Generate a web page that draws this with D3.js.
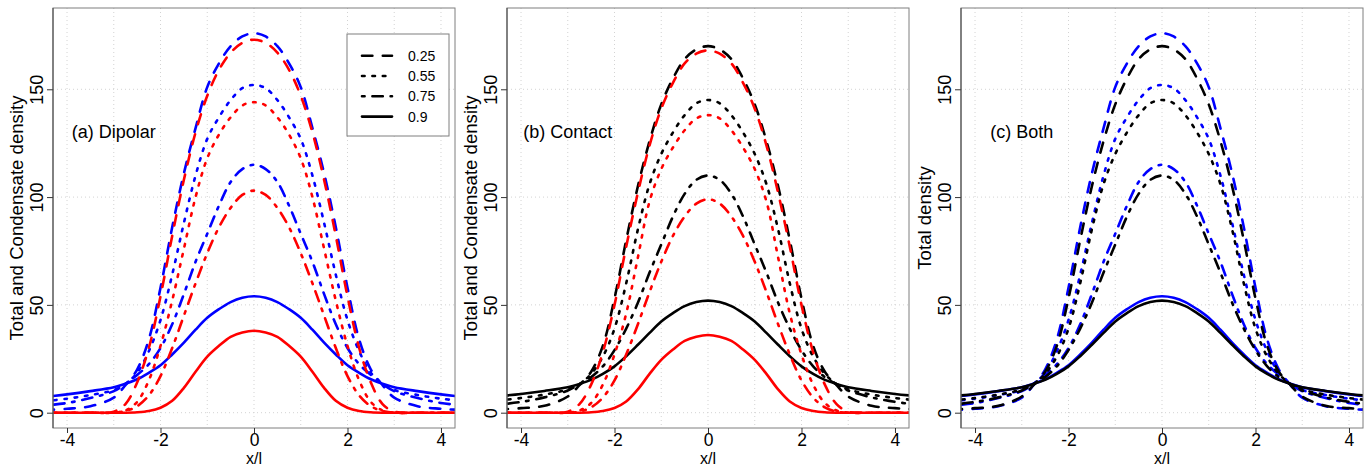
<!DOCTYPE html>
<html>
<head>
<meta charset="utf-8">
<script src="https://cdn.jsdelivr.net/npm/d3@7"></script>
<style>
body { margin: 0; background: #fff; }
text { font-family: "Liberation Sans", Arial, sans-serif; fill: #000; }
</style>
</head>
<body>
<div id="chart"></div>
<script>
// profiles are symmetric about x = 0, values read for x >= 0
var xHalf = [0, 0.25, 0.5, 0.75, 1, 1.25, 1.5, 1.75, 2, 2.25, 2.5, 2.75, 3, 3.5, 4, 4.5];
var fractions = ["0.25", "0.55", "0.75", "0.9"];

var dipolarTotal = [
  [176, 174.5, 170, 162, 151, 132, 111, 86, 58, 34, 20, 12.8, 7, 3, 1.8, 1.2],
  [152, 150.5, 145, 137, 127, 110, 88, 64, 43, 28.5, 18.5, 13.4, 10.5, 8.2, 6.5, 5.3],
  [115, 113, 107, 96, 83, 70, 55, 41, 30, 22.5, 17.5, 13.3, 10, 6.8, 4.5, 3.3],
  [54, 53.3, 51.3, 48, 44, 38.5, 32.5, 27, 22, 18.5, 15.5, 13.4, 11.8, 10, 8.5, 7.3]
];
var dipolarCond = [
  [173, 171.5, 167, 159, 147, 130, 108, 82, 54, 30, 14, 4, 0.5, 0, 0, 0],
  [144, 142.5, 137, 129, 118, 100, 76, 52, 31, 15, 5, 1, 0, 0, 0, 0],
  [103, 101, 95, 86, 74, 60, 45, 30, 17, 8, 3, 0.8, 0, 0, 0, 0],
  [38, 37.2, 35.2, 31, 26, 19, 11.5, 5.5, 2.3, 0.8, 0.2, 0, 0, 0, 0, 0]
];
var contactTotal = [
  [170, 168.5, 164, 155, 143, 126, 105, 80, 53, 31, 19, 12.8, 7.5, 3.2, 2.1, 1.5],
  [145, 143.5, 138, 130, 120, 106, 85, 60, 39, 26, 18, 13.3, 10.8, 8.4, 6.8, 5.6],
  [110, 108, 101.5, 91, 78, 65, 51, 39, 29, 21.5, 16.5, 13.2, 10.3, 7.1, 5, 3.7],
  [52, 51.3, 49.4, 46.2, 42.3, 37, 31.5, 26.2, 21.5, 18, 15.2, 13.3, 11.8, 10.1, 8.7, 7.6]
];
var contactCond = [
  [168, 166.5, 162, 153, 141, 124, 102, 77, 50, 28, 13, 4, 0.5, 0, 0, 0],
  [138, 136.5, 131, 123, 113, 98, 72, 46, 27, 13, 4.5, 1, 0, 0, 0, 0],
  [99, 97, 91, 82, 70, 56, 41, 27, 15, 7, 2.5, 0.5, 0, 0, 0, 0],
  [36, 35.2, 33.3, 29.3, 24.5, 18, 10.8, 5.2, 2.2, 0.8, 0.2, 0, 0, 0, 0, 0]
];

var xTicks = [-4, -2, 0, 2, 4];
var yTicks = [0, 50, 100, 150];
var xGrid = [-4, -3, -2, -1, 0, 1, 2, 3, 4];

var width = 1371, height = 466;
var plotW = 402, plotTop = 8, plotBottom = 428;
var lw = 2.6;
var dashes = [
  [4 * lw, 4 * lw].join(","),
  [1 * lw, 3 * lw].join(","),
  [1 * lw, 3 * lw, 4 * lw, 3 * lw].join(","),
  null
];

var panels = [
  {left: 53, label: "(a) Dipolar", ytitle: "Total and Condensate density",
   sets: [{vals: dipolarTotal, color: "#0000ff"}, {vals: dipolarCond, color: "#ff0000"}], legend: true},
  {left: 507, label: "(b) Contact", ytitle: "Total and Condensate density",
   sets: [{vals: contactTotal, color: "#000000"}, {vals: contactCond, color: "#ff0000"}]},
  {left: 961, label: "(c) Both", ytitle: "Total density",
   sets: [{vals: dipolarTotal, color: "#0000ff"}, {vals: contactTotal, color: "#000000"}]}
];

function mirror(vals) {
  var pts = [];
  for (var i = xHalf.length - 1; i > 0; i--) pts.push([-xHalf[i], vals[i]]);
  for (var j = 0; j < xHalf.length; j++) pts.push([xHalf[j], vals[j]]);
  return pts;
}

var svg = d3.select("#chart").append("svg")
    .attr("width", width)
    .attr("height", height);

panels.forEach(function(p, k) {
  var x = d3.scaleLinear().domain([-4.3, 4.3]).range([p.left, p.left + plotW]);
  var y = d3.scaleLinear().domain([-7.1, 187.7]).range([plotBottom, plotTop]);
  var g = svg.append("g");

  g.append("clipPath").attr("id", "clip" + k)
    .append("rect")
    .attr("x", p.left).attr("y", plotTop)
    .attr("width", plotW).attr("height", plotBottom - plotTop);

  // grid
  g.selectAll(".vg").data(xGrid).enter().append("line")
    .attr("x1", function(d){ return x(d); }).attr("x2", function(d){ return x(d); })
    .attr("y1", plotTop).attr("y2", plotBottom)
    .attr("stroke", "#d3d3d3").attr("stroke-dasharray", "1,3");
  g.selectAll(".hg").data(yTicks).enter().append("line")
    .attr("x1", p.left).attr("x2", p.left + plotW)
    .attr("y1", function(d){ return y(d); }).attr("y2", function(d){ return y(d); })
    .attr("stroke", "#d3d3d3").attr("stroke-dasharray", "1,3");

  var line = d3.line()
    .x(function(d){ return x(d[0]); })
    .y(function(d){ return y(d[1]); })
    .curve(d3.curveCatmullRom.alpha(0.5));

  var curves = g.append("g").attr("clip-path", "url(#clip" + k + ")");
  p.sets.forEach(function(s) {
    s.vals.forEach(function(vals, i) {
      curves.append("path")
        .attr("d", line(mirror(vals)))
        .attr("fill", "none")
        .attr("stroke", s.color)
        .attr("stroke-width", lw)
        .attr("stroke-linecap", "round")
        .attr("stroke-dasharray", dashes[i]);
    });
  });

  // box
  g.append("rect")
    .attr("x", p.left).attr("y", plotTop)
    .attr("width", plotW).attr("height", plotBottom - plotTop)
    .attr("fill", "none").attr("stroke", "#7f7f7f");

  // axes
  var xAxis = d3.axisBottom(x).tickValues(xTicks).tickSize(5).tickPadding(1)
    .tickFormat(function(d){ return d < 0 ? "-" + Math.abs(d) : d; });
  var xg = g.append("g").attr("transform", "translate(0," + plotBottom + ")").call(xAxis);
  xg.select(".domain").remove();
  xg.selectAll("line").attr("stroke", "#333");
  xg.selectAll("text").attr("font-size", 17.5).attr("fill", "#000")
    .attr("font-family", "Liberation Sans, Arial, sans-serif");

  var yAxis = d3.axisLeft(y).tickValues(yTicks).tickSize(6).tickFormat(d3.format("d"));
  var yg = g.append("g").attr("transform", "translate(" + p.left + ",0)").call(yAxis);
  yg.select(".domain").remove();
  yg.selectAll("line").attr("stroke", "#333");
  yg.selectAll("text").remove();
  yg.selectAll(".tick").append("text")
    .attr("transform", "translate(-10,0) rotate(-90)")
    .attr("text-anchor", "middle")
    .attr("font-size", 18)
    .attr("font-family", "Liberation Sans, Arial, sans-serif")
    .attr("fill", "#000")
    .text(function(d){ return d; });

  g.append("line")
    .attr("x1", p.left).attr("x2", p.left)
    .attr("y1", plotTop).attr("y2", plotBottom)
    .attr("stroke", "#444");

  // titles
  g.append("text")
    .attr("transform", "translate(" + (p.left - 30) + "," + ((plotTop + plotBottom) / 2) + ") rotate(-90)")
    .attr("text-anchor", "middle")
    .attr("font-size", 18.6)
    .text(p.ytitle);
  g.append("text")
    .attr("x", x(0)).attr("y", 464)
    .attr("text-anchor", "middle")
    .attr("font-size", 16)
    .text("x/l");
  g.append("text")
    .attr("x", x(-3)).attr("y", y(130))
    .attr("text-anchor", "middle")
    .attr("dominant-baseline", "central")
    .attr("font-size", 18)
    .text(p.label);

  if (p.legend) {
    var lg = g.append("g");
    lg.append("rect")
      .attr("x", 347).attr("y", 34).attr("width", 102).attr("height", 102)
      .attr("fill", "#fff").attr("stroke", "#7f7f7f");
    fractions.forEach(function(f, i) {
      var ry = 55.7 + i * 20.3;
      lg.append("line")
        .attr("x1", 362).attr("x2", 392)
        .attr("y1", ry).attr("y2", ry)
        .attr("stroke", "#000").attr("stroke-width", lw)
        .attr("stroke-linecap", "round")
        .attr("stroke-dasharray", dashes[i]);
      lg.append("text")
        .attr("x", 408).attr("y", ry)
        .attr("dominant-baseline", "central")
        .attr("font-size", 14)
        .text(f);
    });
  }
});
</script>
</body>
</html>
